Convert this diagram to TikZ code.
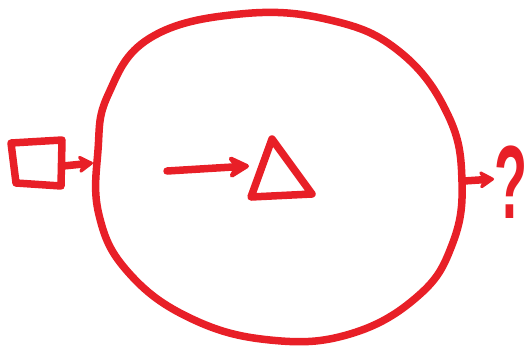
\documentclass[tikz,border=0pt]{standalone}
\usepackage{fontspec}
\setmainfont{Liberation Sans}
\usetikzlibrary{arrows.meta}
\definecolor{pen}{HTML}{E81F27}
\tikzset{
  ink/.style={draw=pen, line width=7.5pt, line cap=round, line join=round},
  arr/.style={ink, -{Stealth[length=18pt,width=22pt,inset=6pt,round]}},
  bigarr/.style={ink, -{Stealth[length=26pt,width=28pt,inset=9pt,round]}},
}
\begin{document}
\begin{tikzpicture}[x=1pt,y=-1pt]
\useasboundingbox (0,0) rectangle (529,349);
% square
\draw[ink] (11,143) -- (62,140) -- (61,186) -- (16,183) -- cycle;
\coordinate (sq) at (63,166);
% big circle
\draw[ink] plot[smooth cycle, tension=0.7] coordinates {
 (150,38) (240,14) (330,20) (400,52) (448,115) (462,182) (452,245)
 (418,296) (350,334) (270,340) (190,318) (128,272) (99,215) (98,150)
 (108,95)};
\coordinate (cl) at (93,163);
\coordinate (cr) at (464,181);
% inner arrow + triangle
\coordinate (ia) at (167,171);
\coordinate (tri) at (249,166);
\draw[ink] (272,139) -- (251,197) -- (312,194) -- cycle;
% question mark
\node[text=pen, font=\bfseries\fontsize{104}{104}\selectfont, xscale=0.52, inner sep=0pt] (q) at (511,182) {?};
\coordinate (qa) at (494,179);
% arrows
\draw[arr] (sq) -- (cl);
\draw[bigarr] (ia) -- (tri);
\draw[arr] (cr) -- (qa);
\end{tikzpicture}
\end{document}
